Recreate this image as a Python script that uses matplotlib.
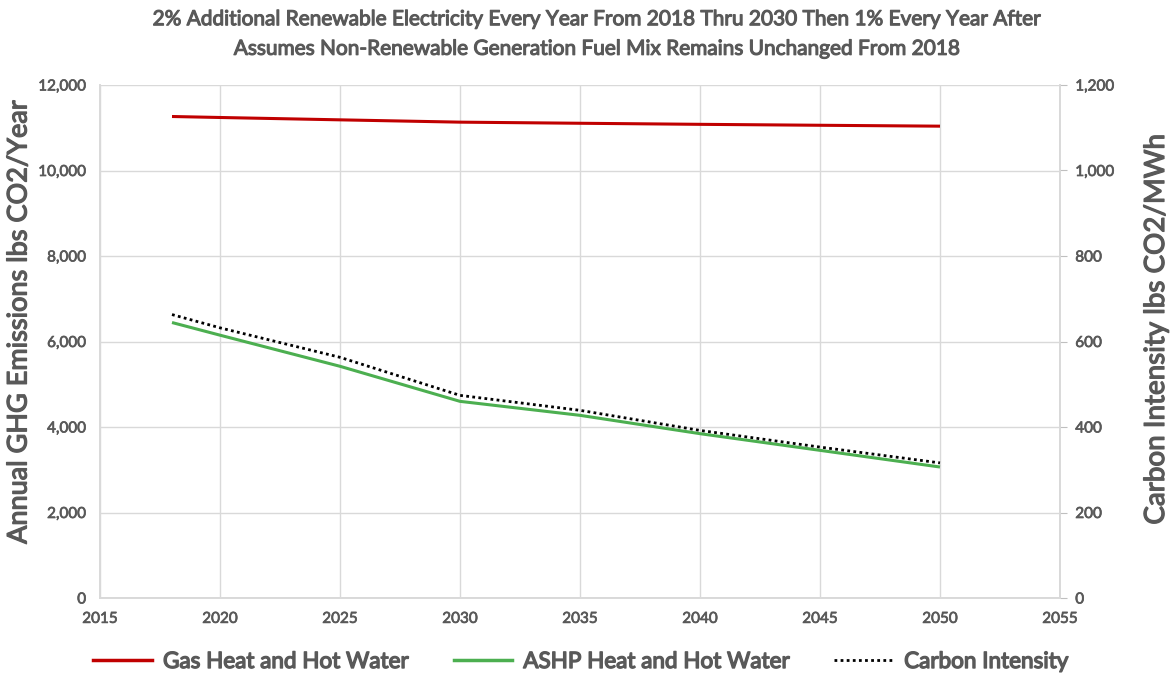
import matplotlib
matplotlib.use("Agg")
import matplotlib.pyplot as plt
import matplotlib.patheffects as pe
from matplotlib.ticker import FuncFormatter, MultipleLocator
from matplotlib.lines import Line2D

plt.rcParams['font.family'] = ['Lato', 'DejaVu Sans']

years = [2018, 2020, 2025, 2030, 2035, 2040, 2045, 2050]
gas = [11263, 11240, 11185, 11131, 11105, 11080, 11058, 11037]
ashp = [6444, 6148, 5420, 4600, 4273, 3844, 3454, 3064]
carbon = [663, 632, 563, 474, 439, 392, 353, 316]

title = ("2% Additional Renewable Electricity Every Year From 2018 Thru 2030 Then 1% Every Year After\n"
         "Assumes Non-Renewable Generation Fuel Mix Remains Unchanged From 2018")
left_label = "Annual GHG Emissions lbs CO2/Year"
right_label = "Carbon Intensity lbs CO2/MWh"
legend_labels = ["Gas Heat and Hot Water", "ASHP Heat and Hot Water", "Carbon Intensity"]

TXT = '#595959'
GRID = '#D9D9D9'
RED = '#C00000'
GREEN = '#4CAF50'

def bolden(t, w=0.7):
    t.set_path_effects([pe.withStroke(linewidth=w, foreground=TXT)])

W, H = 1176, 675
fig = plt.figure(figsize=(11.76, 6.75), dpi=100)
ax = fig.add_axes([100/W, 1-598/H, 960/W, 513/H])
ax2 = ax.twinx()

ax.plot(years, gas, color=RED, lw=2.2, solid_capstyle='butt')
ax.plot(years, ashp, color=GREEN, lw=2.2, solid_capstyle='butt')
ax2.plot(years, carbon, color='black', lw=2, linestyle=(0, (1, 1.2)))

ax.set_xlim(2015, 2055)
ax.set_ylim(0, 12000)
ax2.set_ylim(0, 1200)
ax.xaxis.set_major_locator(MultipleLocator(5))
ax.yaxis.set_major_locator(MultipleLocator(2000))
ax2.yaxis.set_major_locator(MultipleLocator(200))
fmt = FuncFormatter(lambda v, p: f"{int(v):,}")
ax.yaxis.set_major_formatter(fmt)
ax2.yaxis.set_major_formatter(fmt)

ax.grid(True, color=GRID, lw=1)
ax.set_axisbelow(True)
for a in (ax, ax2):
    for s in a.spines.values():
        s.set_color(GRID)
        s.set_linewidth(1.2)
    a.spines['top'].set_visible(False)
ax.tick_params(axis='x', length=0, pad=10, labelsize=11, labelcolor=TXT)
ax.tick_params(axis='y', length=0, pad=10, labelsize=11, labelcolor=TXT)
ax2.tick_params(axis='y', length=5, color='#BFBFBF', pad=6, labelsize=11, labelcolor=TXT)
for lab in ax.get_xticklabels() + ax.get_yticklabels() + ax2.get_yticklabels():
    bolden(lab, 0.5)

yl = fig.text(19/W, 1-322/H, left_label, rotation=90, ha='center', va='center',
              fontsize=19.5, color=TXT)
yr = fig.text(1156/W, 1-329/H, right_label, rotation=90, ha='center', va='center',
              fontsize=20, color=TXT)
bolden(yl, 0.9)
bolden(yr, 0.9)

tt = fig.text(0.508, 1-34/H, title, ha='center', va='center', fontsize=15, color=TXT,
              linespacing=1.6)
bolden(tt, 0.8)

handles = [Line2D([], [], color=RED, lw=2.5),
           Line2D([], [], color=GREEN, lw=2.5),
           Line2D([], [], color='black', lw=2, linestyle=(0, (1, 1.2)))]
leg = fig.legend(handles, legend_labels, loc='center', bbox_to_anchor=(0.494, 1-662/H),
                 ncol=3, frameon=False, labelcolor=TXT, handlelength=2.6,
                 columnspacing=2.0, handletextpad=0.5, prop={'size': 16.2})
for t in leg.get_texts():
    t.set_path_effects([pe.withStroke(linewidth=1.0, foreground=TXT)])

fig.savefig('out.png', dpi=100)
